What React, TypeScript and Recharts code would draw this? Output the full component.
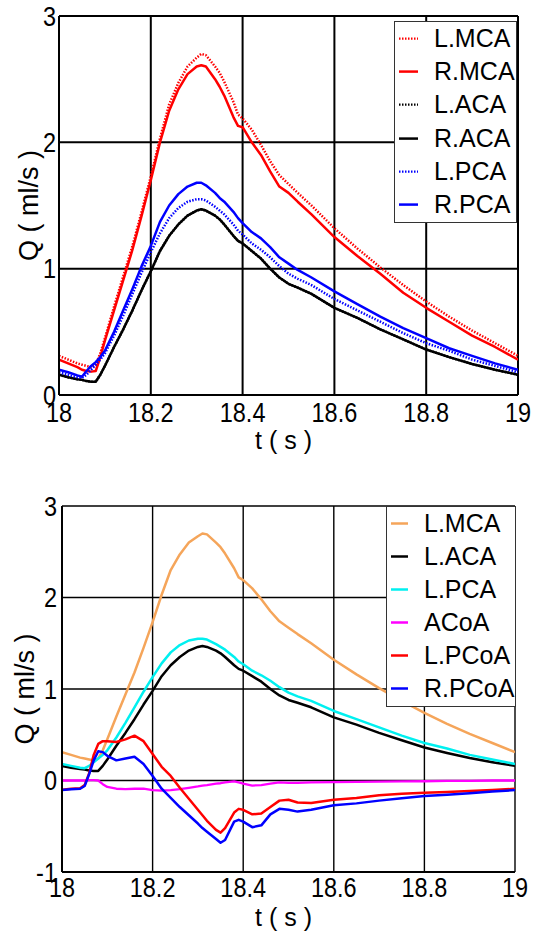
import React from 'react';
import { LineChart, Line, XAxis, YAxis, CartesianGrid, Legend } from 'recharts';

const T = [18.0, 18.02, 18.04, 18.05, 18.06, 18.07, 18.08, 18.09, 18.1, 18.12, 18.14, 18.16, 18.18, 18.2, 18.22, 18.24, 18.26, 18.28, 18.3, 18.31, 18.32, 18.34, 18.35, 18.36, 18.38, 18.39, 18.4, 18.42, 18.44, 18.46, 18.48, 18.5, 18.52, 18.55, 18.6, 18.65, 18.7, 18.75, 18.8, 18.85, 18.9, 18.95, 19.0];

const L_MCA = [0.31, 0.28, 0.25, 0.24, 0.23, 0.22, 0.24, 0.33, 0.45, 0.7, 0.94, 1.18, 1.45, 1.73, 2.03, 2.3, 2.47, 2.6, 2.67, 2.7, 2.69, 2.6, 2.55, 2.48, 2.32, 2.22, 2.19, 2.1, 1.98, 1.85, 1.74, 1.67, 1.6, 1.5, 1.32, 1.16, 1.01, 0.87, 0.74, 0.62, 0.51, 0.41, 0.31];
const R_MCA = [0.28, 0.25, 0.22, 0.2, 0.19, 0.185, 0.19, 0.3, 0.43, 0.67, 0.91, 1.15, 1.42, 1.7, 2.0, 2.25, 2.42, 2.54, 2.6, 2.61, 2.6, 2.5, 2.44, 2.37, 2.2, 2.13, 2.12, 2.0, 1.9, 1.77, 1.65, 1.6, 1.53, 1.43, 1.25, 1.1, 0.96, 0.81, 0.69, 0.58, 0.47, 0.38, 0.28];
const L_ACA_TOP = [0.16, 0.14, 0.125, 0.12, 0.11, 0.105, 0.105, 0.16, 0.23, 0.38, 0.52, 0.67, 0.83, 0.98, 1.14, 1.26, 1.35, 1.42, 1.46, 1.47, 1.46, 1.42, 1.39, 1.35, 1.26, 1.22, 1.2, 1.14, 1.08, 1.0, 0.93, 0.88, 0.85, 0.8, 0.69, 0.61, 0.52, 0.44, 0.36, 0.3, 0.245, 0.2, 0.16];
const R_ACA = [0.16, 0.14, 0.125, 0.12, 0.11, 0.105, 0.105, 0.16, 0.23, 0.38, 0.52, 0.67, 0.83, 0.98, 1.14, 1.26, 1.35, 1.42, 1.46, 1.47, 1.46, 1.42, 1.39, 1.35, 1.26, 1.22, 1.2, 1.14, 1.08, 1.0, 0.93, 0.88, 0.85, 0.8, 0.69, 0.61, 0.52, 0.44, 0.36, 0.3, 0.245, 0.2, 0.16];
const L_PCA = [0.18, 0.16, 0.14, 0.135, 0.16, 0.2, 0.24, 0.28, 0.33, 0.47, 0.63, 0.8, 0.97, 1.13, 1.28, 1.4, 1.48, 1.53, 1.55, 1.55, 1.54, 1.49, 1.46, 1.43, 1.35, 1.3, 1.27, 1.2, 1.15, 1.09, 1.02, 0.96, 0.92, 0.87, 0.76, 0.67, 0.58, 0.49, 0.41, 0.35, 0.28, 0.23, 0.18];
const R_PCA = [0.2, 0.18, 0.155, 0.145, 0.19, 0.23, 0.26, 0.3, 0.35, 0.5, 0.67, 0.84, 1.02, 1.18, 1.37, 1.5, 1.59, 1.65, 1.68, 1.68, 1.66, 1.6, 1.56, 1.53, 1.45, 1.4, 1.36, 1.29, 1.24, 1.17, 1.09, 1.04, 0.99, 0.93, 0.82, 0.72, 0.62, 0.53, 0.45, 0.37, 0.31, 0.25, 0.2];
const ACOA = [0, 0, 0, 0, 0.005, 0.005, 0, -0.04, -0.07, -0.09, -0.095, -0.09, -0.09, -0.105, -0.11, -0.105, -0.095, -0.08, -0.065, -0.055, -0.05, -0.035, -0.03, -0.02, -0.01, -0.02, -0.035, -0.055, -0.05, -0.035, -0.02, -0.025, -0.025, -0.02, -0.018, -0.015, -0.012, -0.01, -0.008, -0.005, -0.003, 0, 0];
const L_PCOA = [-0.1, -0.09, -0.085, -0.05, 0.08, 0.28, 0.4, 0.43, 0.43, 0.42, 0.45, 0.49, 0.43, 0.29, 0.15, 0.05, -0.08, -0.2, -0.32, -0.38, -0.44, -0.54, -0.57, -0.52, -0.35, -0.31, -0.32, -0.37, -0.36, -0.29, -0.22, -0.21, -0.24, -0.245, -0.21, -0.19, -0.16, -0.145, -0.135, -0.125, -0.115, -0.105, -0.09];
const R_PCOA = [-0.105, -0.095, -0.09, -0.06, 0.07, 0.22, 0.32, 0.31, 0.27, 0.22, 0.24, 0.26, 0.18, 0.05, -0.09, -0.19, -0.29, -0.38, -0.47, -0.52, -0.56, -0.64, -0.68, -0.65, -0.45, -0.43, -0.45, -0.51, -0.49, -0.37, -0.31, -0.32, -0.34, -0.32, -0.27, -0.25, -0.22, -0.195, -0.17, -0.155, -0.14, -0.12, -0.105];

const X_TICKS = [18, 18.2, 18.4, 18.6, 18.8, 19];
const Y_TICKS_TOP = [0, 1, 2, 3];
const Y_TICKS_BOTTOM = [-1, 0, 1, 2, 3];

const data = T.map((t, i) => ({
  t,
  lMCA: L_MCA[i],
  rMCA: R_MCA[i],
  lACAtop: L_ACA_TOP[i],
  rACA: R_ACA[i],
  lPCA: L_PCA[i],
  rPCA: R_PCA[i],
  acoa: ACOA[i],
  lPCoA: L_PCOA[i],
  rPCoA: R_PCOA[i],
}));

const FONT = '"Liberation Sans", Arial, Helvetica, sans-serif';
const DOT = '1.5 1.5';

type S = { key: string; name: string; color: string; dash?: string; width: number };

const TOP_SERIES: S[] = [
  { key: 'lMCA', name: 'L.MCA', color: '#ff0000', dash: DOT, width: 2.5 },
  { key: 'rMCA', name: 'R.MCA', color: '#ff0000', width: 2.5 },
  { key: 'lACAtop', name: 'L.ACA', color: '#000000', dash: DOT, width: 2.5 },
  { key: 'rACA', name: 'R.ACA', color: '#000000', width: 2.5 },
  { key: 'lPCA', name: 'L.PCA', color: '#0000ff', dash: DOT, width: 2.5 },
  { key: 'rPCA', name: 'R.PCA', color: '#0000ff', width: 2.5 },
];

const BOTTOM_SERIES: S[] = [
  { key: 'lMCA', name: 'L.MCA', color: '#f5a55a', width: 2.5 },
  { key: 'rACA', name: 'L.ACA', color: '#000000', width: 2.5 },
  { key: 'lPCA', name: 'L.PCA', color: '#00f0f0', width: 2.5 },
  { key: 'acoa', name: 'ACoA', color: '#ff00ff', width: 2.3 },
  { key: 'lPCoA', name: 'L.PCoA', color: '#ff0000', width: 2.5 },
  { key: 'rPCoA', name: 'R.PCoA', color: '#0000ff', width: 2.5 },
];

const fmt = (v: number) => String(Number(Number(v).toFixed(1)));

function makeLegend(series: S[], w: number, h: number, x1: number, x2: number, textX: number) {
  return (props: any) => {
    const payload: any[] = props.payload || [];
    const rowH = (h - 3) / series.length;
    return (
      <div style={{ width: w, height: h, border: '1.5px solid #333', background: '#fff', boxSizing: 'border-box', position: 'relative' }}>
        {series.map((s, i) => {
          const entry = payload.find((p) => p.dataKey === s.key) || {};
          const color = entry.color || s.color;
          const label = entry.value || s.name;
          return (
            <div key={s.name} style={{ position: 'absolute', left: 0, top: i * rowH, height: rowH, width: w - 3 }}>
              <svg width={textX} height={rowH} style={{ position: 'absolute', left: 0, top: 0 }}>
                <line x1={x1} x2={x2} y1={rowH / 2} y2={rowH / 2} stroke={color} strokeWidth={s.dash ? 2.2 : 2.5} strokeDasharray={s.dash} />
              </svg>
              <span style={{ position: 'absolute', left: textX, top: 0, lineHeight: `${rowH}px`, fontSize: 25, fontFamily: FONT, color: '#000', whiteSpace: 'nowrap' }}>{label}</span>
            </div>
          );
        })}
      </div>
    );
  };
}

const XTick = (props: any) => {
  const { x, y, payload } = props;
  return (
    <g transform={`translate(${x},${y})`}>
      <text transform="scale(0.87,1)" textAnchor="middle" dy="0.71em" fontSize={27} fontFamily={FONT} fill="#000">
        {fmt(payload.value)}
      </text>
    </g>
  );
};

const YTick = (props: any) => {
  const { x, y, payload } = props;
  return (
    <g transform={`translate(${x},${y})`}>
      <text transform="scale(0.87,1)" textAnchor="end" dy="0.355em" fontSize={27} fontFamily={FONT} fill="#000">
        {fmt(payload.value)}
      </text>
    </g>
  );
};

export default function App() {
  return (
    <div style={{ position: 'absolute', left: 0, top: 0, width: 533, height: 937, background: '#fff' }}>
      <div style={{ position: 'absolute', left: 0, top: 0 }}>
        <LineChart width={533} height={470} data={data} margin={{ top: 16, right: 15, bottom: 0, left: 0 }}>
          <CartesianGrid stroke="#000" strokeWidth={2} horizontal vertical />
          <XAxis
            dataKey="t"
            type="number"
            domain={[18, 19]}
            ticks={X_TICKS}
            interval={0}
            tick={<XTick />}
            tickSize={0}
            tickMargin={8}
            tickLine={false}
            axisLine={{ stroke: '#000', strokeWidth: 2 }}
            height={75}
            allowDataOverflow
            label={{ value: 't ( s )', position: 'center', dx: -5, dy: 7.5, style: { fontSize: 25, fill: '#000', fontFamily: FONT } }}
          />
          <YAxis
            type="number"
            domain={[0, 3]}
            ticks={Y_TICKS_TOP}
            interval={0}
            tick={<YTick />}
            tickSize={0}
            tickMargin={3}
            tickLine={false}
            axisLine={{ stroke: '#000', strokeWidth: 2 }}
            width={59}
            allowDataOverflow
            label={{ value: 'Q ( ml/s )', angle: -90, position: 'center', dx: -1.5, style: { fontSize: 27, fill: '#000', fontFamily: FONT } }}
          />
          <Legend
            layout="horizontal"
            verticalAlign="middle"
            align="center"
            wrapperStyle={{ left: 394, top: 21, width: 123, height: 202 }}
            content={makeLegend(TOP_SERIES, 123, 202, 4, 23, 39)}
          />
          {TOP_SERIES.map((s) => (
            <Line
              key={s.key}
              dataKey={s.key}
              name={s.name}
              type="linear"
              stroke={s.color}
              strokeWidth={s.width}
              strokeDasharray={s.dash}
              dot={false}
              activeDot={false}
              isAnimationActive={false}
              strokeLinejoin="round"
            />
          ))}
        </LineChart>
      </div>
      <div style={{ position: 'absolute', left: 0, top: 470 }}>
        <LineChart width={533} height={467} data={data} margin={{ top: 36, right: 18, bottom: 0, left: 0 }}>
          <CartesianGrid stroke="#000" strokeWidth={1.4} horizontal vertical />
          <XAxis
            dataKey="t"
            type="number"
            domain={[18, 19]}
            ticks={X_TICKS}
            interval={0}
            tick={<XTick />}
            tickSize={0}
            tickMargin={6}
            tickLine={false}
            axisLine={{ stroke: '#000', strokeWidth: 2 }}
            height={65}
            allowDataOverflow
            label={{ value: 't ( s )', position: 'center', dx: -5, dy: 12.5, style: { fontSize: 25, fill: '#000', fontFamily: FONT } }}
          />
          <YAxis
            type="number"
            domain={[-1, 3]}
            ticks={Y_TICKS_BOTTOM}
            interval={0}
            tick={<YTick />}
            tickSize={0}
            tickMargin={5}
            tickLine={false}
            axisLine={{ stroke: '#000', strokeWidth: 2 }}
            width={62}
            allowDataOverflow
            label={{ value: 'Q ( ml/s )', angle: -90, position: 'center', dx: -7, style: { fontSize: 27, fill: '#000', fontFamily: FONT } }}
          />
          <Legend
            layout="horizontal"
            verticalAlign="middle"
            align="center"
            wrapperStyle={{ left: 386, top: 36, width: 130, height: 201 }}
            content={makeLegend(BOTTOM_SERIES, 130, 201, 4, 21, 37)}
          />
          {BOTTOM_SERIES.map((s) => (
            <Line
              key={s.key}
              dataKey={s.key}
              name={s.name}
              type="linear"
              stroke={s.color}
              strokeWidth={s.width}
              dot={false}
              activeDot={false}
              isAnimationActive={false}
              strokeLinejoin="round"
            />
          ))}
        </LineChart>
      </div>
    </div>
  );
}
